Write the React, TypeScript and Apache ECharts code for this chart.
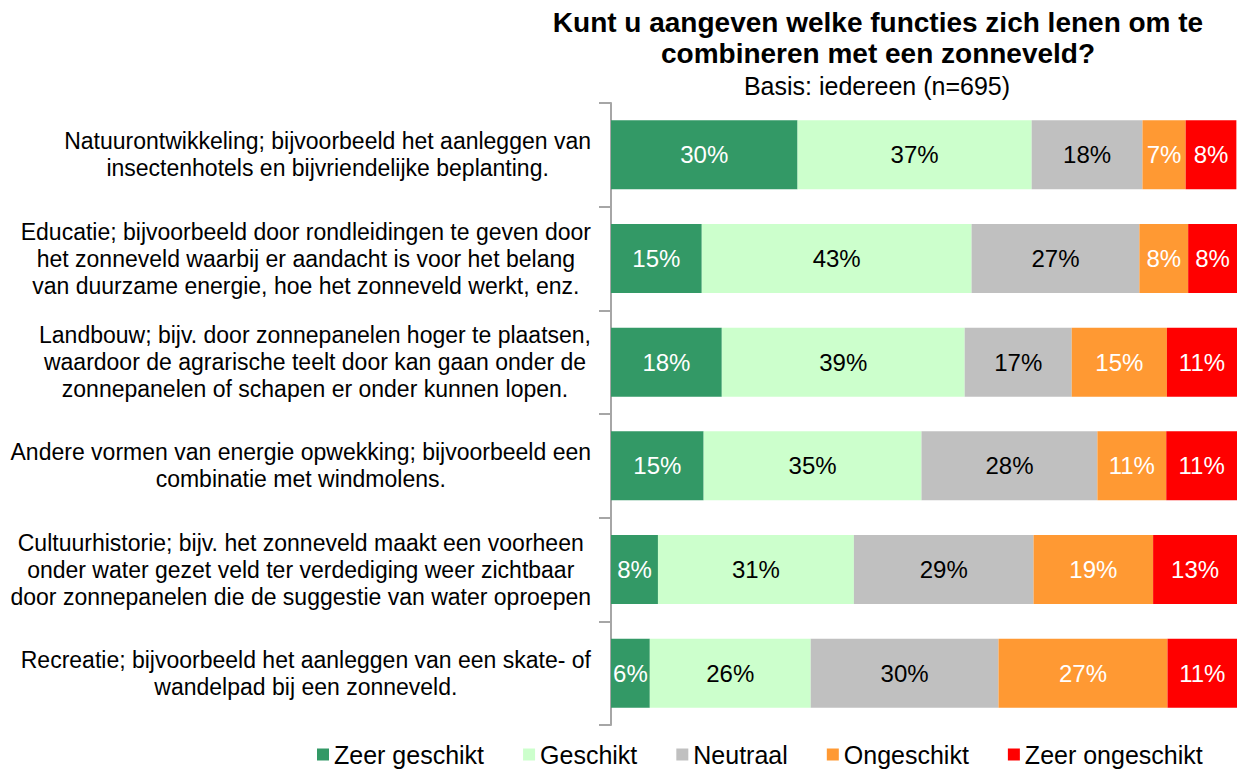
import React, { useEffect, useRef } from "react";
import * as echarts from "echarts";

const categories = [
  "Natuurontwikkeling; bijvoorbeeld het aanleggen van\ninsectenhotels en bijvriendelijke beplanting.",
  "Educatie; bijvoorbeeld door rondleidingen te geven door\nhet zonneveld waarbij er aandacht is voor het belang\nvan duurzame energie, hoe het zonneveld werkt, enz.",
  "Landbouw; bijv. door zonnepanelen hoger te plaatsen,\nwaardoor de agrarische teelt door kan gaan onder de\nzonnepanelen of schapen er onder kunnen lopen.",
  "Andere vormen van energie opwekking; bijvoorbeeld een\ncombinatie met windmolens.",
  "Cultuurhistorie; bijv. het zonneveld maakt een voorheen\nonder water gezet veld ter verdediging weer zichtbaar\ndoor zonnepanelen die de suggestie van water oproepen",
  "Recreatie; bijvoorbeeld het aanleggen van een skate- of\nwandelpad bij een zonneveld.",
];

const seriesNames = ["Zeer geschikt", "Geschikt", "Neutraal", "Ongeschikt", "Zeer ongeschikt"];
const seriesColors = ["#339966", "#CCFFCC", "#C0C0C0", "#FF9933", "#FF0000"];
const labelColors = ["#ffffff", "#000000", "#000000", "#ffffff", "#ffffff"];

const zeerGeschikt = [29.8, 14.5, 17.7, 14.8, 7.5, 6.2];
const geschikt = [37.4, 43.1, 38.8, 34.8, 31.3, 25.7];
const neutraal = [17.7, 26.8, 17.1, 28.1, 28.7, 30.0];
const ongeschikt = [6.9, 7.8, 15.2, 11.0, 19.1, 27.0];
const zeerOngeschikt = [8.1, 7.8, 11.3, 11.3, 13.4, 11.2];

const seriesValues = [zeerGeschikt, geschikt, neutraal, ongeschikt, zeerOngeschikt];

const FONT = "Liberation Sans, Arial, sans-serif";

export default function App() {
  const ref = useRef<HTMLDivElement>(null);
  useEffect(() => {
    if (!ref.current) return;
    const chart = echarts.init(ref.current, undefined, { renderer: "svg" });
    chart.setOption({
      animation: false,
      textStyle: { fontFamily: FONT },
      title: [
        {
          text: "Kunt u aangeven welke functies zich lenen om te\ncombineren met een zonneveld?",
          left: 873,
          top: 2,
          textAlign: "center",
          textStyle: { fontFamily: FONT, fontSize: 28, fontWeight: "bold", color: "#000", lineHeight: 31 },
        },
        {
          text: "Basis: iedereen (n=695)",
          left: 872,
          top: 68,
          textAlign: "center",
          textStyle: { fontFamily: FONT, fontSize: 25, fontWeight: "normal", color: "#000" },
        },
      ],
      legend: {
        left: 312,
        top: 737,
        itemWidth: 12,
        itemHeight: 12,
        itemGap: 39,
        icon: "rect",
        textStyle: { fontFamily: FONT, fontSize: 25, color: "#000" },
        data: seriesNames,
      },
      grid: { left: 611, right: 2, top: 103, bottom: 44, containLabel: false },
      xAxis: { type: "value", min: 0, max: 100, show: false },
      yAxis: {
        type: "category",
        inverse: true,
        data: categories,
        axisLine: { show: true, lineStyle: { color: "#a6a6a6", width: 2 } },
        axisTick: { show: true, length: 12, lineStyle: { color: "#a6a6a6", width: 2 } },
        splitLine: { show: false },
        axisLabel: {
          margin: 20,
          align: "right",
          formatter: (v: string) => v.split("\n").map((l) => "{c|" + l + "}").join("\n"),
          rich: {
            c: { align: "center", fontFamily: FONT, fontSize: 23, lineHeight: 27, color: "#000" },
          },
        },
      },
      series: seriesNames.map((name, i) => ({
        name,
        type: "bar",
        stack: "total",
        barWidth: 69,
        data: seriesValues[i],
        itemStyle: { color: seriesColors[i] },
        label: {
          show: true,
          position: "inside",
          formatter: (p: any) => Math.round(p.value) + "%",
          color: labelColors[i],
          fontFamily: FONT,
          fontSize: 24,
        },
      })),
    });
    return () => chart.dispose();
  }, []);
  return <div ref={ref} style={{ position: "fixed", left: 0, top: 0, width: 1239, height: 769, background: "#fff" }} />;
}
